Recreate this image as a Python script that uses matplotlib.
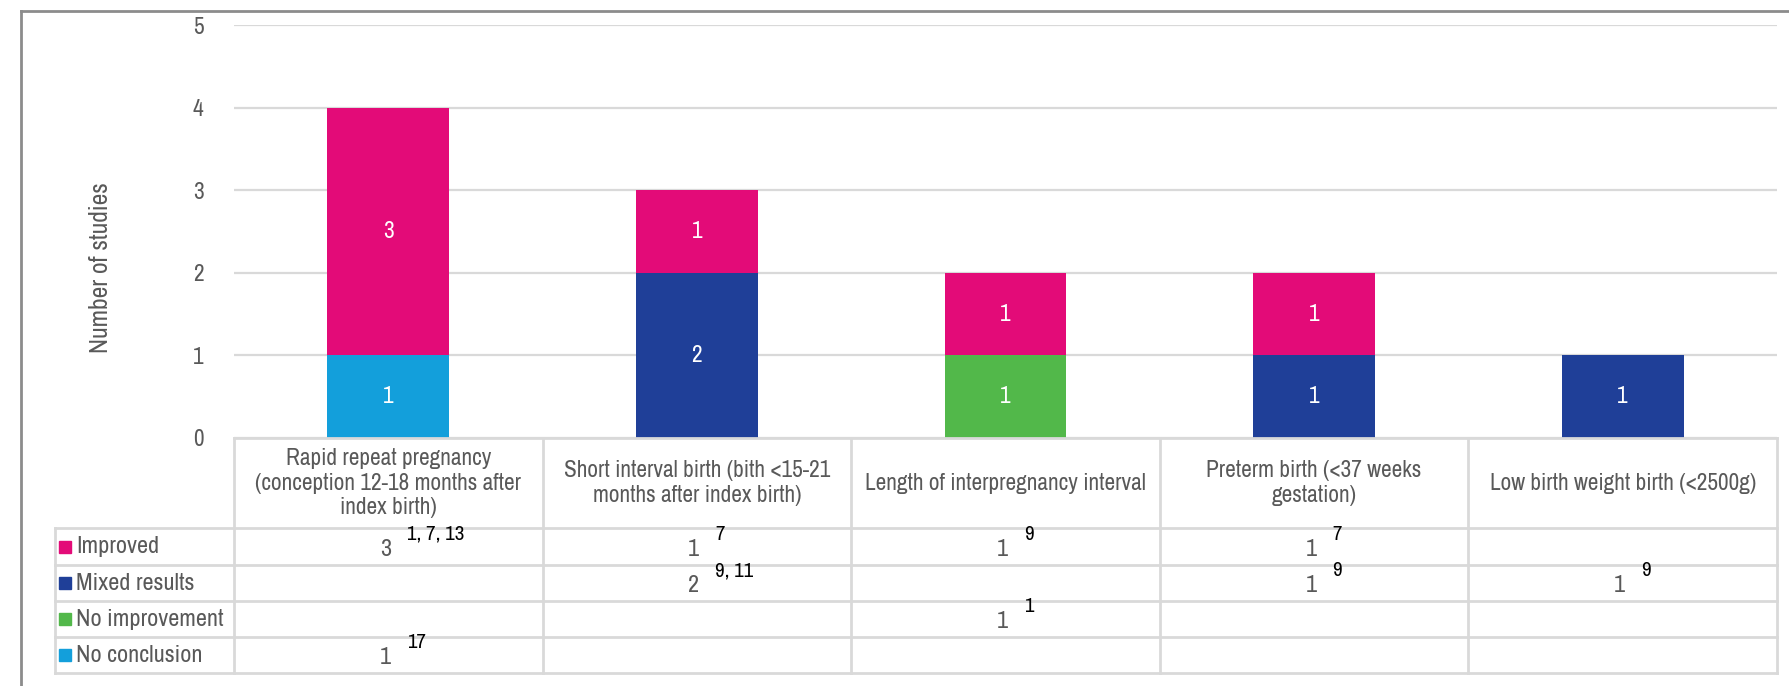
import matplotlib
matplotlib.use("Agg")
import matplotlib.pyplot as plt
import matplotlib.transforms as mtransforms
from matplotlib.lines import Line2D
from matplotlib.patches import Rectangle
from matplotlib import font_manager
import numpy as np

_names = {f.name for f in font_manager.fontManager.ttflist}
if "Archivo Narrow" in _names:
    FONT = "Archivo Narrow"
    K = 1.2
else:
    FONT = "Liberation Sans"
    K = 1.0
plt.rcParams['font.family'] = [FONT, 'DejaVu Sans']

categories = [
    "Rapid repeat pregnancy\n(conception 12-18 months after\nindex birth)",
    "Short interval birth (bith <15-21\nmonths after index birth)",
    "Length of interpregnancy interval",
    "Preterm birth (<37 weeks\ngestation)",
    "Low birth weight birth (<2500g)",
]
series_names = ["Improved", "Mixed results", "No improvement", "No conclusion"]
improved = [3, 1, 1, 1, 0]
mixed = [0, 2, 0, 1, 1]
no_improvement = [0, 0, 1, 0, 0]
no_conclusion = [1, 0, 0, 0, 0]
refs_improved = ["1, 7, 13", "7", "9", "7", ""]
refs_mixed = ["", "9, 11", "", "9", "9"]
refs_no_improvement = ["", "", "1", "", ""]
refs_no_conclusion = ["17", "", "", "", ""]
y_ticks = [0, 1, 2, 3, 4, 5]
y_label = "Number of studies"

colors = {
    "Improved": "#E30B78",
    "Mixed results": "#1F3F98",
    "No improvement": "#52B84A",
    "No conclusion": "#139FDB",
}
values = {
    "Improved": improved,
    "Mixed results": mixed,
    "No improvement": no_improvement,
    "No conclusion": no_conclusion,
}
refs = {
    "Improved": refs_improved,
    "Mixed results": refs_mixed,
    "No improvement": refs_no_improvement,
    "No conclusion": refs_no_conclusion,
}

FS = 14 * K
W, H = 1789, 686
fig = plt.figure(figsize=(W / 100, H / 100), dpi=100)
fig.patch.set_facecolor("white")

ax_left, ax_right = 234 / W, 1777 / W
ax_bottom, ax_top = 1 - 438 / H, 1 - 25 / H
ax = fig.add_axes([ax_left, ax_bottom, ax_right - ax_left, ax_top - ax_bottom])

x = np.arange(len(categories))
bar_w = 0.395
stack_order = ["No conclusion", "No improvement", "Mixed results", "Improved"]
bottom = np.zeros(len(categories))
for name in stack_order:
    v = np.array(values[name], dtype=float)
    ax.bar(x, v, bar_w, bottom=bottom, color=colors[name], zorder=3)
    for xi, vi, bi in zip(x, v, bottom):
        if vi > 0:
            ax.text(xi, bi + vi / 2, f"{int(vi)}", ha="center", va="center",
                    color="white", fontsize=FS, zorder=4)
    bottom += v

ax.set_xlim(-0.5, len(categories) - 0.5)
ax.set_ylim(0, 5)
ax.set_yticks(y_ticks)
ax.set_xticks([])
ax.tick_params(axis="y", length=0, pad=22, labelsize=FS, labelcolor="#595959")
for s in ax.spines.values():
    s.set_visible(False)
ax.yaxis.grid(True, color="#D9D9D9", linewidth=1.6, zorder=0)
ax.set_axisbelow(True)

fig.text(100 / W, 1 - 268 / H, y_label, rotation=90, ha="center", va="center",
         fontsize=15.3 * K, color="#595959")

# Table below the axes (x in data units, y in figure fraction)
trans = mtransforms.blended_transform_factory(ax.transData, fig.transFigure)
line_c = "#D9D9D9"
lw = 2.0
row_edges_px = [438, 528, 565, 601, 637, 673]
row_edges = [1 - p / H for p in row_edges_px]
label_left = -1.08
ncat = len(categories)

def hline(x0, x1, y):
    fig.add_artist(Line2D([x0, x1], [y, y], transform=trans, color=line_c, lw=lw, clip_on=False))

def vline(xv, y0, y1):
    fig.add_artist(Line2D([xv, xv], [y0, y1], transform=trans, color=line_c, lw=lw, clip_on=False))

hline(-0.5, ncat - 0.5, row_edges[0])
for y in row_edges[1:]:
    hline(label_left, ncat - 0.5, y)
for i in range(ncat + 1):
    vline(i - 0.5, row_edges[0], row_edges[-1])
vline(label_left, row_edges[1], row_edges[-1])

# header
hy = (row_edges[0] + row_edges[1]) / 2
for i, c in enumerate(categories):
    fig.text(i, hy, c, transform=trans, ha="center", va="center", fontsize=FS,
             color="#595959", linespacing=1.2, multialignment="center")

# rows
for r, name in enumerate(series_names):
    yc = (row_edges[r + 1] + row_edges[r + 2]) / 2
    fig.add_artist(Rectangle((label_left + 0.013, yc - 6 / H), 0.038, 12 / H,
                             transform=trans, color=colors[name], clip_on=False))
    fig.text(label_left + 0.068, yc, name, transform=trans, ha="left", va="center",
             fontsize=FS * 1.04, color="#595959")
    for i in range(ncat):
        v = values[name][i]
        if v > 0:
            fig.text(i - 0.01, yc - 3 / H, f"{v}", transform=trans, ha="center", va="center",
                     fontsize=FS * 1.04, color="#595959")
            fig.text(i + 0.06, yc + 12 / H, refs[name][i], transform=trans, ha="left",
                     va="center", fontsize=12.5 * K, color="black")

# outer frame (partially visible)
fig.add_artist(Line2D([21 / W, 1.0], [1 - 11 / H, 1 - 11 / H], transform=fig.transFigure,
                      color="#8C8C8C", lw=2))
fig.add_artist(Line2D([21 / W, 21 / W], [1 - 11 / H, 0], transform=fig.transFigure,
                      color="#8C8C8C", lw=2))

fig.savefig("out.png", dpi=100, facecolor="white")
